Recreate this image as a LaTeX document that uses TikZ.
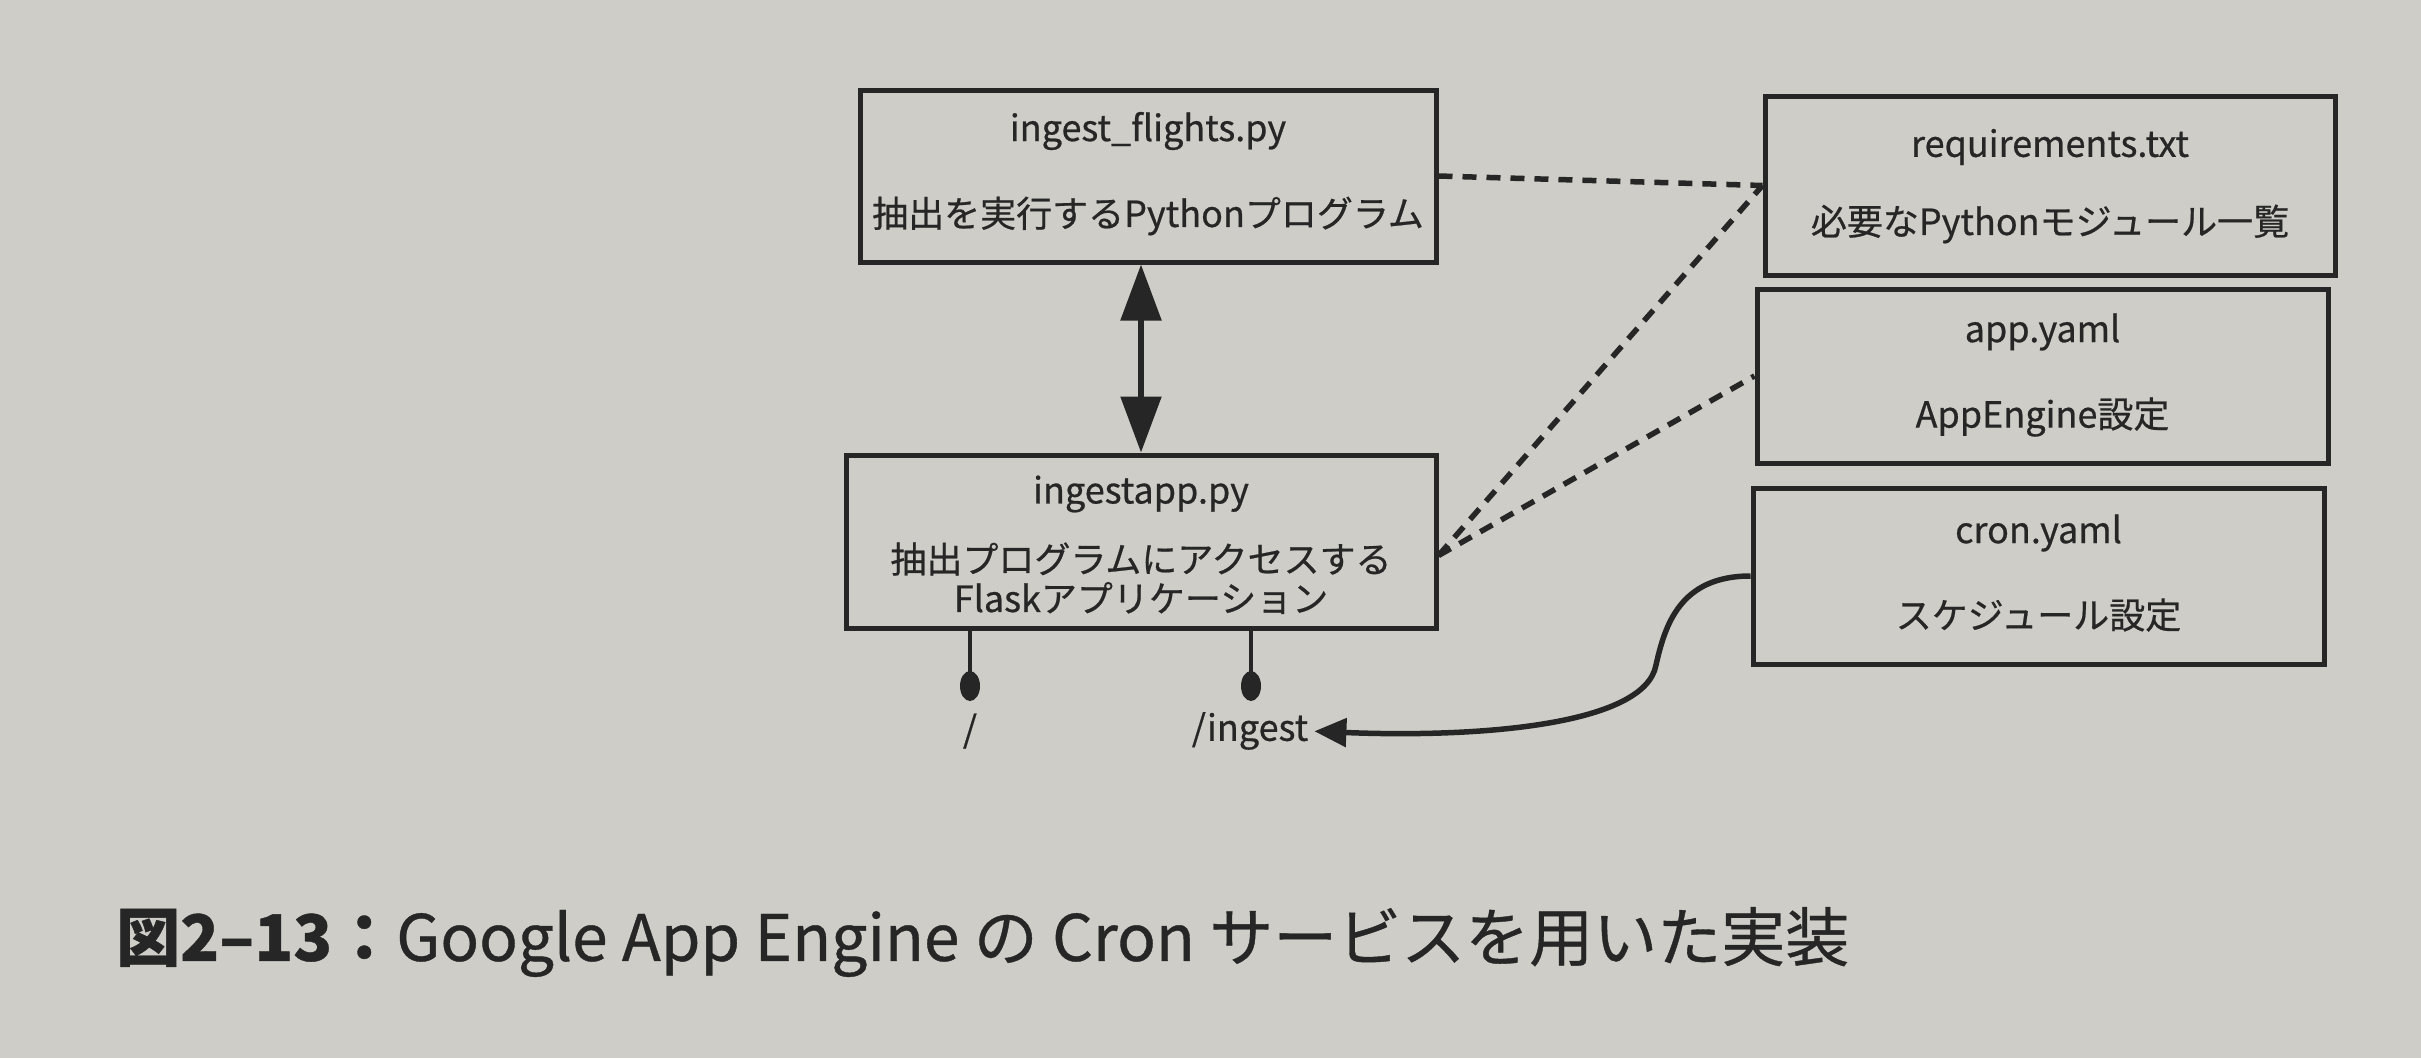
\documentclass[tikz,border=0pt]{standalone}
\usepackage{fontspec}
\setmainfont{Noto Sans CJK JP}[FakeBold=0.6]
\usetikzlibrary{arrows.meta,shapes.geometric,calc}
\definecolor{paper}{RGB}{206,205,200}
\definecolor{ink}{RGB}{38,38,38}
\tikzset{
  box/.style={draw=ink, line width=5pt, rectangle, inner sep=0pt},
  lbl/.style={text=ink, inner sep=0pt, font=\fontsize{36}{42}\selectfont},
  dashline/.style={draw=ink, line width=5.5pt, dash pattern=on 14pt off 10pt},
  dblarrow/.style={draw=ink, line width=5.5pt, {Triangle[width=40pt,length=56pt]}-{Triangle[width=40pt,length=56pt]}},
  curvearrow/.style={draw=ink, line width=5.5pt, -{Triangle[width=28pt,length=32pt]}},
  pinball/.style={ellipse, fill=ink, draw=none, minimum width=20pt, minimum height=30pt, inner sep=0pt},
  pinline/.style={draw=ink, line width=4.5pt}
}
\begin{document}
\begin{tikzpicture}[x=1pt,y=-1pt]
\useasboundingbox (0,0) rectangle (2421,1058);
\fill[paper] (0,0) rectangle (2421,1058);

% boxes
\node[box, minimum width=576pt, minimum height=172pt] (flights) at (1148,176) {};
\node[box, minimum width=590pt, minimum height=173pt] (app) at (1141,541.5) {};
\node[box, minimum width=570pt, minimum height=179pt] (req) at (2050,185.5) {};
\node[box, minimum width=571pt, minimum height=174pt] (appyaml) at (2042.5,376) {};
\node[box, minimum width=571pt, minimum height=176pt] (cron) at (2038.5,576) {};

% texts
\node[lbl] (flightsA) at (1148,131) {ingest\_flights.py};
\node[lbl] (flightsB) at (1148,216) {抽出を実行するPythonプログラム};
\node[lbl] (appA) at (1141,494) {ingestapp.py};
\node[lbl] (appB) at (1141,559) {抽出プログラムにアクセスする};
\node[lbl] (appC) at (1141,598) {Flaskアプリケーション};
\node[lbl] (reqA) at (2050,147) {requirements.txt};
\node[lbl] (reqB) at (2050,224) {必要なPythonモジュール一覧};
\node[lbl] (appyamlA) at (2042.5,332) {app.yaml};
\node[lbl] (appyamlB) at (2042.5,417) {AppEngine設定};
\node[lbl] (cronA) at (2038.5,533) {cron.yaml};
\node[lbl] (cronB) at (2038.5,615) {スケジュール設定};

% pins
\node[pinball] (ball1) at (970,686) {};
\node[pinball] (ball2) at (1251,686) {};
\draw[pinline] (app.south -| ball1) -- (ball1.center);
\draw[pinline] (app.south -| ball2) -- (ball2.center);
\node[lbl] (root) at (970,731) {/};
\node[lbl] (ingest) at (1250,731) {/ingest};

% double arrow
\draw[dblarrow] (flights.south -| app.north) -- (app.north);

% dashed connectors
\coordinate (appport) at ($(app.east)+(0,14)$);
\draw[dashline] (flights.east) -- (req.west);
\draw[dashline] (appport) -- (req.west);
\draw[dashline] (appport) -- (appyaml.west);

% curve arrow
\coordinate (bend) at (1656,665);
\draw[curvearrow, shorten >=6pt] (cron.west) .. controls (1680,576) and (1665,625) .. (bend)
  .. controls (1645,725) and (1480,738) .. (ingest.east);

% caption
\node[anchor=west, text=ink, inner sep=0pt, font=\fontsize{64}{74}\selectfont] (caption) at (116,942)
  {{\bfseries 図2–13：}Google App Engine の Cron サービスを用いた実装};
\end{tikzpicture}
\end{document}
